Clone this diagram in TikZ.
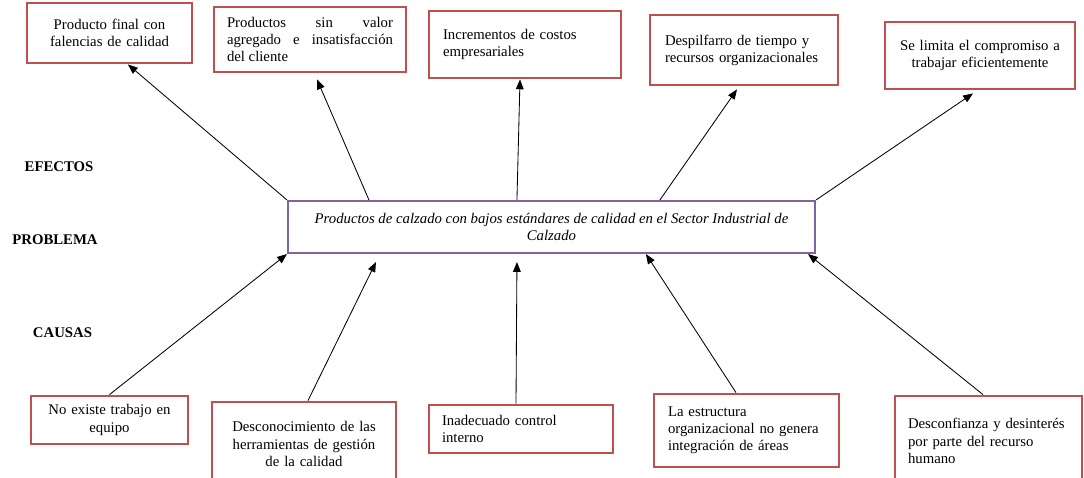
\documentclass[tikz,border=0pt]{standalone}
\usepackage{fontspec}
\setmainfont{Liberation Serif}
\usetikzlibrary{arrows.meta}
\definecolor{rojocaja}{RGB}{192,80,77}
\definecolor{moradocaja}{RGB}{128,100,162}
\tikzset{
  texto/.style={font=\fontsize{10.5}{12.2}\selectfont},
  cajaroja/.style={texto,draw=rojocaja,line width=2pt,fill=white,inner sep=2pt},
  probcaja/.style={texto,draw=moradocaja,line width=1.5pt,fill=white,align=center,font=\fontsize{10.5}{12.2}\selectfont\itshape},
  izq/.style={align=left,text width=#1},
  cen/.style={align=center,text width=#1},
  etiqueta/.style={font=\fontsize{10.5}{12.2}\selectfont\bfseries},
  flecha/.style={-{Triangle[length=7pt,width=5.5pt]},line width=0.6pt}
}
\newcommand{\caja}[7]{\node[cajaroja,minimum width=#4cm,minimum height=#5cm,#6] (#1) at (#2,#3) {#7};}

\begin{document}
\begin{tikzpicture}
	\useasboundingbox (0,0) rectangle (27.1,11.95);
	\caja{e1}{2.7375}{11.125}{4.125}{1.5}{cen=3.45cm}{Producto final con\\falencias de calidad}
	\caja{e2}{7.75}{10.9625}{4.8}{1.625}{align=justify,text width=4.15cm}{Productos sin valor\linebreak agregado e insatisfacción\linebreak del cliente}
	\caja{e3}{13.125}{10.8375}{4.8}{1.675}{izq=4.1cm}{Incrementos de costos\\empresariales}
	\caja{e4}{18.6}{10.7}{4.7}{1.75}{izq=3.95cm}{Despilfarro de tiempo y\\recursos organizacionales}
	\caja{e5}{24.5}{10.5625}{4.75}{1.675}{cen=4.1cm}{Se limita el compromiso a\\trabajar eficientemente}
	\node[probcaja,minimum width=13.175cm,minimum height=1.3cm] (prob) at (13.7875,6.275)
		{Productos de calzado con bajos estándares de calidad en el Sector Industrial de\\Calzado};
	\caja{c1}{2.7375}{1.45}{3.925}{1.2}{cen=3.3cm}{No existe trabajo en\\equipo}
	\caja{c2}{7.6}{0.85}{4.6}{2.1}{cen=3.95cm}{Desconocimiento de las\\herramientas de gestión\\de la calidad}
	\caja{c3}{13.025}{1.225}{4.6}{1.2}{izq=3.95cm}{Inadecuado control\\interno}
	\caja{c4}{18.6625}{1.1875}{4.625}{1.825}{izq=3.925cm}{La estructura\\organizacional no genera\\integración de áreas}
	\caja{c5}{24.7125}{0.925}{4.675}{2.25}{izq=4.025cm}{Desconfianza y desinterés\\por parte del recurso\\humano}
	\node[etiqueta] (efectos) at (1.475,7.775) {EFECTOS};
	\node[etiqueta] (problema) at (1.375,5.95) {PROBLEMA};
	\node[etiqueta] (causas) at (1.5625,3.625) {CAUSAS};
	\draw[flecha] (prob.north west) -- ([xshift=0.46cm]e1.south);
	\draw[flecha] ([xshift=2.05cm]prob.north west) -- ([xshift=0.175cm,yshift=-0.15cm]e2.south);
	\draw[flecha] ([xshift=5.75cm]prob.north west) -- ([xshift=-0.125cm]e3.south);
	\draw[flecha] ([xshift=9.325cm]prob.north west) -- ([xshift=-0.175cm,yshift=-0.075cm]e4.south);
	\draw[flecha] (prob.north east) -- ([xshift=-0.175cm,yshift=-0.075cm]e5.south);
	\draw[flecha] (c1.north) -- (prob.south west);
	\draw[flecha] ([xshift=0.1cm]c2.north) -- ([xshift=2.225cm,yshift=-0.2cm]prob.south west);
	\draw[flecha] ([xshift=-0.125cm]c3.north) -- ([xshift=5.75cm,yshift=-0.2cm]prob.south west);
	\draw[flecha] ([xshift=-0.2625cm]c4.north) -- ([xshift=8.975cm]prob.south west);
	\draw[flecha] ([xshift=-0.1375cm]c5.north) -- ([xshift=-0.2cm]prob.south east);
\end{tikzpicture}
\end{document}
